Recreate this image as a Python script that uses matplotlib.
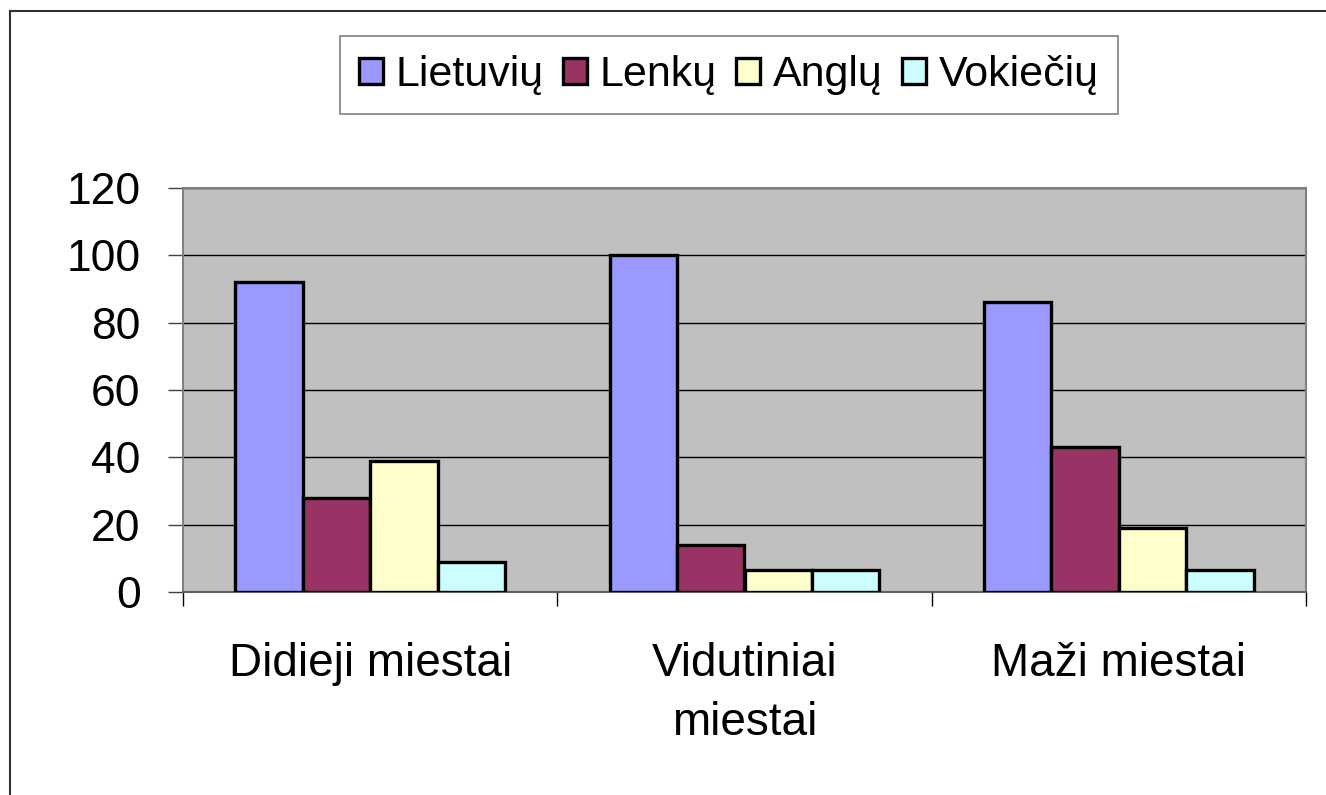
import numpy as np
import matplotlib.pyplot as plt
from matplotlib.lines import Line2D

categories = ["Didieji miestai", "Vidutiniai\nmiestai", "Maži miestai"]
series_names = ["Lietuvių", "Lenkų", "Anglų", "Vokiečių"]
lietuviu = [92, 100, 86]
lenku = [28, 14, 43]
anglu = [39, 6.5, 19]
vokieciu = [9, 6.5, 6.5]
colors = ["#9999FF", "#993366", "#FFFFCC", "#CCFFFF"]


def main():
    plt.rcParams['font.family'] = ['Liberation Sans', 'DejaVu Sans']
    fig = plt.figure(figsize=(13.26, 7.95), dpi=100)
    ax = fig.add_axes([183 / 1326, 1 - 592 / 795, (1306 - 183) / 1326, (592 - 188) / 795])
    ax.set_facecolor("#C0C0C0")

    x = np.arange(len(categories))
    width = 0.18
    data = [lietuviu, lenku, anglu, vokieciu]
    for i, (vals, name, c) in enumerate(zip(data, series_names, colors)):
        ax.bar(x + (i - 1.5) * width, vals, width, color=c, edgecolor="black",
               linewidth=2.4, label=name, zorder=3)

    ax.set_ylim(0, 120)
    ax.set_yticks(range(0, 121, 20))
    ax.set_xlim(-0.5, 2.5)
    ax.set_xticks(x)
    ax.set_xticklabels(categories, linespacing=1.45)
    ax.set_xticks([-0.5, 0.5, 1.5, 2.5], minor=True)
    ax.tick_params(axis="x", which="major", length=0, pad=36, labelsize=33)
    ax.tick_params(axis="x", which="minor", length=10, width=1, color="black")
    ax.tick_params(axis="y", length=10.5, width=1, color="#404040", labelsize=32, pad=20)
    ax.yaxis.grid(True, color="black", linewidth=1, zorder=1)
    ax.set_axisbelow(True)
    for s in ["top", "right", "left"]:
        ax.spines[s].set_color("#808080")
        ax.spines[s].set_linewidth(1.5)
    ax.spines["bottom"].set_color("#606060")
    ax.spines["bottom"].set_linewidth(1.5)

    leg = fig.legend(loc="center", bbox_to_anchor=(729 / 1326, 1 - 75 / 795), ncol=4,
                     fontsize=31, frameon=True, fancybox=False, edgecolor="#606060",
                     handlelength=0.55, handleheight=0.55, handletextpad=0.3,
                     columnspacing=0.45, borderpad=0.45)
    leg.get_frame().set_linewidth(1.2)
    for h in leg.legend_handles:
        h.set_linewidth(2.4)

    fig.add_artist(Line2D([10 / 1326, 10 / 1326], [0, 1 - 11 / 795], color="#303030", lw=1.5))
    fig.add_artist(Line2D([10 / 1326, 1], [1 - 11 / 795, 1 - 11 / 795], color="#303030", lw=1.5))

    fig.savefig("out.png", dpi=100)


if __name__ == "__main__":
    main()
